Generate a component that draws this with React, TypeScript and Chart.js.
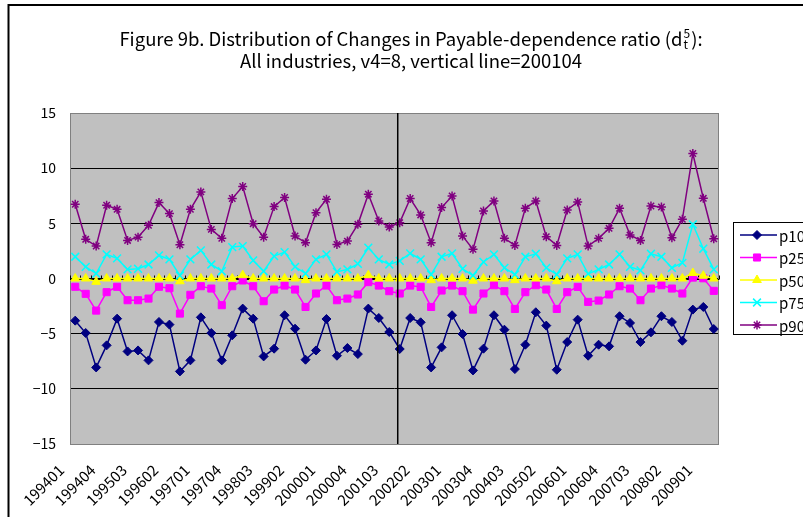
import React, { useEffect, useRef } from 'react';
import { Chart, registerables } from 'chart.js';
import { drawPoint } from 'chart.js/helpers';

Chart.register(...registerables);

const FONT = '"Noto Sans CJK JP", "Noto Sans", sans-serif';

// ---- Data ----
const quarters = [
  '199401', '199402', '199403', '199404', '199501', '199502', '199503', '199504',
  '199601', '199602', '199603', '199604', '199701', '199702', '199703', '199704',
  '199801', '199802', '199803', '199804', '199901', '199902', '199903', '199904',
  '200001', '200002', '200003', '200004', '200101', '200102', '200103', '200104',
  '200201', '200202', '200203', '200204', '200301', '200302', '200303', '200304',
  '200401', '200402', '200403', '200404', '200501', '200502', '200503', '200504',
  '200601', '200602', '200603', '200604', '200701', '200702', '200703', '200704',
  '200801', '200802', '200803', '200804', '200901', '200902',
];

const labeledQuarters = [
  '199401', '199404', '199503', '199602', '199701', '199704', '199803', '199902',
  '200001', '200004', '200103', '200202', '200301', '200304', '200403', '200502',
  '200601', '200604', '200703', '200802', '200901',
];

const yTickValues = [-15, -10, -5, 0, 5, 10, 15];

const verticalLineQuarter = '200104';

const p10 = [
  -3.82, -4.94, -8.06, -6.06, -3.64, -6.61, -6.52, -7.42, -3.94, -4.18,
  -8.42, -7.42, -3.52, -4.94, -7.42, -5.15, -2.73, -3.64, -7.06, -6.36,
  -3.33, -4.55, -7.36, -6.52, -3.67, -7.0, -6.3, -6.85, -2.73, -3.58,
  -4.85, -6.39, -3.58, -3.97, -8.06, -6.24, -3.33, -5.03, -8.33, -6.36,
  -3.33, -4.64, -8.21, -6.0, -3.06, -4.27, -8.27, -5.76, -3.73, -7.0,
  -6.0, -6.15, -3.42, -4.03, -5.76, -4.88, -3.42, -3.94, -5.64, -2.82,
  -2.58, -4.58,
];

const p25 = [
  -0.75, -1.39, -2.91, -1.24, -0.75, -1.97, -1.97, -1.82, -0.75, -0.88,
  -3.18, -1.48, -0.7, -0.91, -2.42, -0.7, -0.18, -0.7, -2.06, -1.0,
  -0.64, -1.0, -2.58, -1.36, -0.64, -1.97, -1.82, -1.45, -0.33, -0.64,
  -1.15, -1.36, -0.64, -0.76, -2.58, -1.09, -0.64, -1.15, -2.82, -1.36,
  -0.61, -1.15, -2.76, -1.24, -0.61, -1.0, -2.76, -1.24, -0.76, -2.12,
  -2.0, -1.45, -0.7, -0.91, -1.97, -0.91, -0.61, -0.91, -1.36, 0.08,
  0.02, -1.12,
];

const p50 = [
  0.0, 0.0, -0.3, 0.0, 0.0, 0.0, 0.0, 0.0, 0.0, 0.0,
  -0.25, 0.0, 0.0, 0.0, 0.0, 0.0, 0.3, 0.0, 0.0, 0.0,
  0.0, 0.0, -0.15, 0.0, 0.0, 0.0, 0.0, 0.0, 0.3, 0.0,
  0.0, 0.0, 0.0, 0.0, -0.15, 0.0, 0.0, 0.0, -0.2, 0.0,
  0.0, 0.0, -0.15, 0.0, 0.0, 0.0, -0.25, 0.0, 0.0, 0.0,
  0.0, 0.0, 0.0, 0.0, 0.0, 0.0, 0.0, 0.0, 0.0, 0.5,
  0.25, 0.0,
];

const p75 = [
  1.97, 1.06, 0.45, 2.18, 1.82, 0.82, 0.88, 1.27, 2.09, 1.73,
  0.27, 1.73, 2.55, 1.27, 0.66, 2.85, 2.94, 1.64, 0.66, 2.03,
  2.39, 1.06, 0.45, 1.73, 2.18, 0.61, 0.82, 1.33, 2.79, 1.73,
  1.27, 1.6, 2.27, 1.73, 0.36, 1.97, 2.27, 0.88, 0.27, 1.5,
  2.18, 0.97, 0.36, 1.97, 2.24, 0.97, 0.36, 1.82, 2.18, 0.42,
  0.82, 1.27, 2.18, 1.06, 0.73, 2.24, 1.97, 0.97, 1.42, 4.91,
  2.7, 0.82,
];

const p90 = [
  6.73, 3.55, 2.94, 6.64, 6.27, 3.45, 3.75, 4.82, 6.88, 5.88,
  3.06, 6.27, 7.85, 4.45, 3.64, 7.25, 8.34, 4.97, 3.75, 6.52,
  7.34, 3.85, 3.25, 5.97, 7.18, 3.09, 3.39, 4.91, 7.64, 5.21,
  4.67, 5.06, 7.25, 5.76, 3.25, 6.43, 7.48, 3.85, 2.64, 6.12,
  7.03, 3.64, 3.0, 6.36, 7.03, 3.79, 3.0, 6.21, 6.94, 2.94,
  3.64, 4.55, 6.36, 3.94, 3.45, 6.57, 6.48, 3.7, 5.36, 11.33,
  7.27, 3.6,
];

const seriesNames = ['p10', 'p25', 'p50', 'p75', 'p90'];
const seriesValues = [p10, p25, p50, p75, p90];

const titleBefore = 'Figure 9b. Distribution of Changes in Payable-dependence ratio (d';
const titleSup = '5';
const titleSub = 't';
const titleAfter = '):';
const titleLine2 = 'All industries, v4=8, vertical line=200104';

// ---- Styles ----
const seriesStyles = [
  { color: '#000080', pointStyle: 'rectRot', radius: 4.5, fill: true },
  { color: '#FF00FF', pointStyle: 'rect', radius: 5, fill: true },
  { color: '#FFFF00', pointStyle: 'triangle', radius: 5, fill: true },
  { color: '#00FFFF', pointStyle: 'crossRot', radius: 5.5, fill: false },
  { color: '#800080', pointStyle: 'star', radius: 4.5, fill: false },
];

const decorPlugin = {
  id: 'decor',
  beforeDraw(chart: any) {
    const { ctx, chartArea: a, width, height } = chart;
    ctx.save();
    ctx.fillStyle = '#ffffff';
    ctx.fillRect(0, 0, width, height);
    ctx.strokeStyle = '#000';
    ctx.lineWidth = 2;
    ctx.strokeRect(8.5, 5, width + 40, height + 40);
    ctx.fillStyle = '#c0c0c0';
    ctx.fillRect(a.left, a.top, a.right - a.left, a.bottom - a.top);
    ctx.restore();
  },
  beforeDatasetsDraw(chart: any) {
    const { ctx, chartArea: a, scales } = chart;
    ctx.save();
    // plot border
    ctx.strokeStyle = '#808080';
    ctx.lineWidth = 1;
    ctx.strokeRect(a.left + 0.5, a.top + 0.5, a.right - a.left - 1, a.bottom - a.top);
    // category axis at zero with tick marks between categories
    const y0 = Math.round(scales.y.getPixelForValue(0)) + 0.5;
    ctx.strokeStyle = '#000';
    ctx.beginPath();
    ctx.moveTo(a.left, y0);
    ctx.lineTo(a.right, y0);
    const n = quarters.length;
    const w = (a.right - a.left) / n;
    for (let k = 0; k <= n; k++) {
      const x = Math.round(a.left + k * w) + 0.5;
      ctx.moveTo(x, y0 - 4);
      ctx.lineTo(x, y0);
    }
    ctx.stroke();
    ctx.restore();
  },
  afterDatasetsDraw(chart: any) {
    const { ctx, chartArea: a, scales } = chart;
    const idx = quarters.indexOf(verticalLineQuarter);
    const x = scales.x.getPixelForValue(idx) - 2;
    ctx.save();
    ctx.strokeStyle = '#000';
    ctx.lineWidth = 1.5;
    ctx.beginPath();
    ctx.moveTo(x, a.top);
    ctx.lineTo(x, a.bottom);
    ctx.stroke();
    ctx.restore();
  },
  afterDraw(chart: any) {
    const { ctx } = chart;
    ctx.save();
    // Title
    ctx.fillStyle = '#000';
    ctx.textBaseline = 'alphabetic';
    const big = `18.5px ${FONT}`;
    const small = `12px ${FONT}`;
    ctx.font = big;
    const wb = ctx.measureText(titleBefore).width;
    const wa = ctx.measureText(titleAfter).width;
    ctx.font = small;
    const ws = Math.max(ctx.measureText(titleSup).width, ctx.measureText(titleSub).width);
    const total = wb + ws + 2 + wa;
    const cx = 411;
    let x = cx - total / 2;
    const by = 46;
    ctx.font = big;
    ctx.textAlign = 'left';
    ctx.fillText(titleBefore, x, by);
    x += wb + 1;
    ctx.font = small;
    ctx.fillText(titleSup, x, by - 8);
    ctx.fillText(titleSub, x, by + 3);
    x += ws + 1;
    ctx.font = big;
    ctx.fillText(titleAfter, x, by);
    ctx.textAlign = 'center';
    ctx.fillText(titleLine2, cx, 68);

    // Legend
    const lx = 733.5;
    const ly = 222.5;
    ctx.fillStyle = '#fff';
    ctx.fillRect(lx, ly, 120, 112);
    ctx.strokeStyle = '#000';
    ctx.lineWidth = 1;
    ctx.strokeRect(lx, ly, 120, 112);
    ctx.textAlign = 'left';
    ctx.textBaseline = 'middle';
    ctx.font = `15px ${FONT}`;
    seriesNames.forEach((name, i) => {
      const st = seriesStyles[i];
      const yy = 235 + i * 22.5;
      ctx.strokeStyle = st.color;
      ctx.lineWidth = 1.5;
      ctx.beginPath();
      ctx.moveTo(740, yy);
      ctx.lineTo(777, yy);
      ctx.stroke();
      ctx.fillStyle = st.color;
      ctx.lineWidth = st.fill ? 1 : 1.5;
      drawPoint(ctx, { pointStyle: st.pointStyle as any, radius: st.radius, rotation: 0, borderWidth: ctx.lineWidth }, 757, yy);
      ctx.fillStyle = '#000';
      ctx.fillText(name, 779, yy + 1);
    });
    ctx.restore();
  },
};

export default function App() {
  const ref = useRef<HTMLCanvasElement | null>(null);
  useEffect(() => {
    if (!ref.current) return;
    const chart = new Chart(ref.current, {
      type: 'line',
      data: {
        labels: quarters,
        datasets: seriesNames.map((name, i) => ({
          label: name,
          data: seriesValues[i],
          borderColor: seriesStyles[i].color,
          backgroundColor: seriesStyles[i].color,
          pointStyle: seriesStyles[i].pointStyle as any,
          pointRadius: seriesStyles[i].radius,
          pointBorderWidth: seriesStyles[i].fill ? 1 : 1.5,
          pointBorderColor: seriesStyles[i].color,
          pointBackgroundColor: seriesStyles[i].color,
          borderWidth: 1.5,
          tension: 0,
          order: 5 - i,
        })),
      },
      options: {
        responsive: false,
        animation: false,
        events: [],
        layout: { padding: { top: 113, right: 84, left: 0, bottom: 0 } },
        plugins: {
          legend: { display: false },
          title: { display: false },
          tooltip: { enabled: false },
        },
        scales: {
          x: {
            type: 'category',
            offset: true,
            grid: { display: false, drawTicks: false },
            border: { display: false },
            ticks: {
              autoSkip: false,
              maxRotation: 45,
              minRotation: 45,
              padding: 17,
              labelOffset: -14,
              color: '#000',
              font: { family: FONT, size: 15 },
              callback: (_v: any, i: number) =>
                labeledQuarters.includes(quarters[i]) ? quarters[i] : '',
            },
            afterFit: (s: any) => {
              s.height = 73;
            },
          },
          y: {
            min: -15,
            max: 15,
            afterBuildTicks: (s: any) => {
              s.ticks = yTickValues.map((v) => ({ value: v }));
            },
            grid: { color: '#000', lineWidth: 1, drawTicks: false },
            border: { display: false },
            ticks: {
              color: '#000',
              padding: 14,
              font: { family: FONT, size: 14 },
              callback: (v: any) => String(v).replace('-', '\u2212'),
            },
            afterFit: (s: any) => {
              s.width = 70;
            },
          },
        },
      },
      plugins: [decorPlugin],
    });
    return () => chart.destroy();
  }, []);
  return (
    <canvas
      ref={ref}
      width={803}
      height={517}
      style={{ position: 'absolute', left: 0, top: 0, display: 'block' }}
    />
  );
}
